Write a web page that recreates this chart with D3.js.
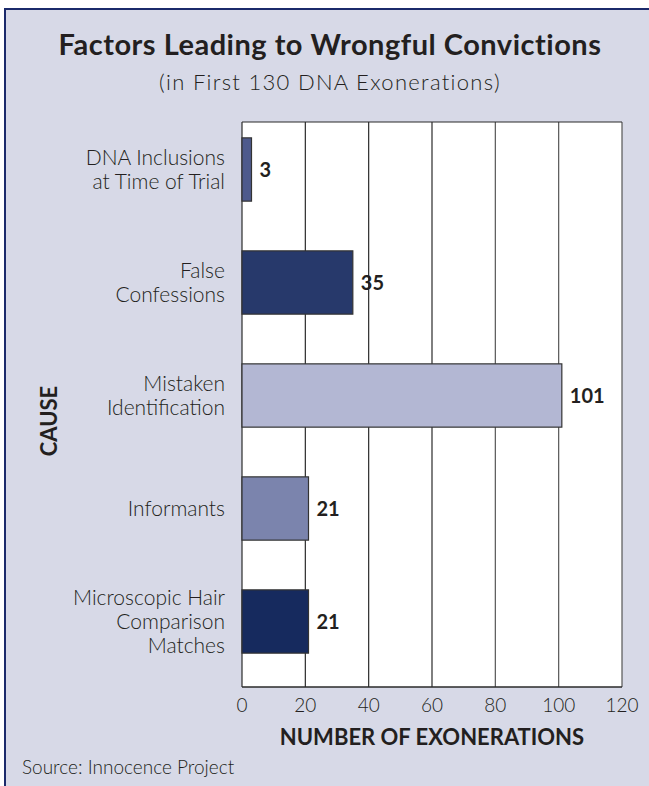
<!DOCTYPE html>
<html>
<head>
<meta charset="utf-8">
<script src="https://cdn.jsdelivr.net/npm/d3@7"></script>
<style>
  body { margin: 0; background: #fff; }
  svg { display: block; }
</style>
</head>
<body>
<div id="chart"></div>
<script>
var causes = [
  ["DNA Inclusions", "at Time of Trial"],
  ["False", "Confessions"],
  ["Mistaken", "Identification"],
  ["Informants"],
  ["Microscopic Hair", "Comparison", "Matches"]
];
var counts = [3, 35, 101, 21, 21];
var barColors = ["#4e5a8c", "#27396b", "#b3b7d3", "#7b84ad", "#162a5e"];
var xTicks = [0, 20, 40, 60, 80, 100, 120];

var width = 649, height = 786;
var font = "Lato, 'Noto Sans', sans-serif";
var ink = "#231f20";

var plot = {left: 242, right: 622, top: 122, bottom: 687};

var svg = d3.select("#chart").append("svg")
    .attr("width", width)
    .attr("height", height);

// panel background + navy frame (top and left only)
svg.append("rect")
    .attr("x", 4).attr("y", 8)
    .attr("width", width - 4).attr("height", height - 8)
    .attr("fill", "#d7d9e7");
svg.append("line")
    .attr("x1", 4).attr("x2", width).attr("y1", 9).attr("y2", 9)
    .attr("stroke", "#1b2a6b").attr("stroke-width", 2);
svg.append("line")
    .attr("x1", 5).attr("x2", 5).attr("y1", 8).attr("y2", height)
    .attr("stroke", "#1b2a6b").attr("stroke-width", 2);

// titles
svg.append("text")
    .attr("x", 330).attr("y", 55)
    .attr("text-anchor", "middle")
    .attr("font-family", font).attr("font-weight", "bold")
    .attr("font-size", "29px").attr("letter-spacing", "0.5px").attr("fill", ink)
    .text("Factors Leading to Wrongful Convictions");
svg.append("text")
    .attr("x", 330).attr("y", 90)
    .attr("text-anchor", "middle")
    .attr("font-family", font).attr("font-weight", 300)
    .attr("font-size", "22px").attr("letter-spacing", "1.3px").attr("fill", ink)
    .text("(in First 130 DNA Exonerations)");

var x = d3.scaleLinear().domain([0, 120]).range([plot.left, plot.right]);
var y = d3.scaleBand()
    .domain(d3.range(counts.length))
    .range([plot.top - 9, plot.bottom - 9])
    .paddingInner(0.44)
    .paddingOuter(0.22);

// plot area
svg.append("rect")
    .attr("x", plot.left).attr("y", plot.top)
    .attr("width", plot.right - plot.left).attr("height", plot.bottom - plot.top)
    .attr("fill", "white");

svg.append("g").selectAll("line")
    .data(xTicks)
  .enter().append("line")
    .attr("x1", function(d) { return x(d); })
    .attr("x2", function(d) { return x(d); })
    .attr("y1", plot.top).attr("y2", plot.bottom)
    .attr("stroke", function(d) { return d >= 80 ? "#555" : "#2a2a2a"; })
    .attr("stroke-width", 1.2);

svg.append("line")
    .attr("x1", plot.left).attr("x2", plot.right)
    .attr("y1", plot.top).attr("y2", plot.top)
    .attr("stroke", "#2a2a2a").attr("stroke-width", 1.2);
svg.append("line")
    .attr("x1", plot.left).attr("x2", plot.right)
    .attr("y1", plot.bottom).attr("y2", plot.bottom)
    .attr("stroke", "#2a2a2a").attr("stroke-width", 1.5);

// bars
svg.append("g").selectAll("rect")
    .data(counts)
  .enter().append("rect")
    .attr("x", x(0))
    .attr("y", function(d, i) { return y(i); })
    .attr("width", function(d) { return x(d) - x(0); })
    .attr("height", y.bandwidth())
    .attr("fill", function(d, i) { return barColors[i]; })
    .attr("stroke", "#333")
    .attr("stroke-width", 1.2);

// value labels
svg.append("g").selectAll("text")
    .data(counts)
  .enter().append("text")
    .attr("x", function(d) { return x(d) + 8; })
    .attr("y", function(d, i) { return y(i) + y.bandwidth() / 2; })
    .attr("dy", "0.35em")
    .attr("font-family", font).attr("font-weight", "bold")
    .attr("font-size", "20px").attr("fill", ink)
    .text(function(d) { return d; });

// category labels
var lineH = 24;
svg.append("g").selectAll("text")
    .data(causes)
  .enter().append("text")
    .attr("text-anchor", "end")
    .attr("font-family", font).attr("font-weight", 300)
    .attr("font-size", "21px").attr("fill", ink)
    .each(function(lines, i) {
      var cy = y(i) + y.bandwidth() / 2 - (lines.length - 1) * lineH / 2;
      d3.select(this).selectAll("tspan")
          .data(lines)
        .enter().append("tspan")
          .attr("x", 225)
          .attr("y", function(d, j) { return cy + j * lineH; })
          .attr("dy", "0.35em")
          .text(function(d) { return d; });
    });

// x tick labels
svg.append("g").selectAll("text")
    .data(xTicks)
  .enter().append("text")
    .attr("x", function(d) { return x(d); })
    .attr("y", 712)
    .attr("text-anchor", "middle")
    .attr("font-family", font).attr("font-weight", 300)
    .attr("font-size", "19px").attr("fill", ink)
    .text(function(d) { return d; });

// axis titles
svg.append("text")
    .attr("x", (plot.left + plot.right) / 2).attr("y", 745)
    .attr("text-anchor", "middle")
    .attr("font-family", font).attr("font-weight", "bold")
    .attr("font-size", "22px").attr("fill", ink)
    .text("NUMBER OF EXONERATIONS");

svg.append("text")
    .attr("transform", "translate(57,421)rotate(-90)")
    .attr("text-anchor", "middle")
    .attr("font-family", font).attr("font-weight", "bold")
    .attr("font-size", "22px").attr("fill", ink)
    .text("CAUSE");

svg.append("text")
    .attr("x", 22).attr("y", 774)
    .attr("font-family", font).attr("font-weight", 300)
    .attr("font-size", "19px").attr("fill", ink)
    .text("Source: Innocence Project");
</script>
</body>
</html>
